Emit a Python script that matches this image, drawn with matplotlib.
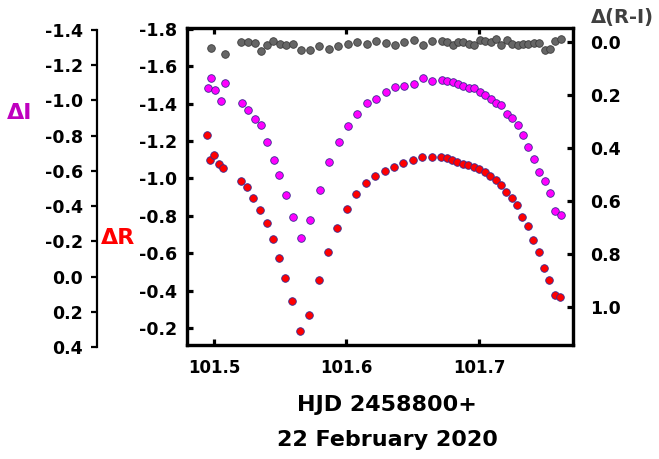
import numpy as np
import matplotlib
matplotlib.use('Agg')
import matplotlib.pyplot as plt

plt.rcParams['font.family'] = 'DejaVu Sans'
plt.rcParams['font.weight'] = 'bold'
plt.rcParams['axes.unicode_minus'] = False

# R band (HJD - 2458800)
t_r = [101.4945, 101.4970, 101.5000, 101.5040, 101.5070, 101.5202, 101.5251, 101.5297,
       101.5347, 101.5398, 101.5448, 101.5491, 101.5538, 101.5589, 101.5647, 101.5719,
       101.5790, 101.5860, 101.5931, 101.6002, 101.6074, 101.6145, 101.6215, 101.6288,
       101.6358, 101.6429, 101.6502, 101.6572, 101.6643, 101.6715, 101.6756, 101.6796,
       101.6836, 101.6877, 101.6919, 101.6960, 101.7002, 101.7043, 101.7083, 101.7126,
       101.7166, 101.7206, 101.7247, 101.7287, 101.7327, 101.7368, 101.7410, 101.7451,
       101.7491, 101.7531, 101.7571, 101.7614]
dR = [-1.231, -1.097, -1.124, -1.078, -1.055, -0.987, -0.955, -0.898,
      -0.832, -0.760, -0.677, -0.577, -0.468, -0.347, -0.183, -0.272,
      -0.458, -0.604, -0.734, -0.839, -0.919, -0.974, -1.012, -1.039,
      -1.062, -1.081, -1.097, -1.113, -1.117, -1.117, -1.110, -1.097,
      -1.089, -1.080, -1.071, -1.060, -1.051, -1.033, -1.012, -0.993,
      -0.966, -0.930, -0.896, -0.857, -0.796, -0.743, -0.673, -0.607,
      -0.520, -0.459, -0.379, -0.365]

# I band
t_i = [101.4955, 101.4975, 101.5005, 101.5051, 101.5081, 101.5209, 101.5259, 101.5307,
       101.5352, 101.5402, 101.5453, 101.5493, 101.5543, 101.5594, 101.5654, 101.5725,
       101.5798, 101.5868, 101.5941, 101.6011, 101.6082, 101.6152, 101.6223, 101.6296,
       101.6366, 101.6436, 101.6507, 101.6577, 101.6648, 101.6721, 101.6761, 101.6802,
       101.6842, 101.6882, 101.6925, 101.6965, 101.7005, 101.7048, 101.7088, 101.7128,
       101.7168, 101.7209, 101.7251, 101.7292, 101.7332, 101.7372, 101.7413, 101.7455,
       101.7496, 101.7536, 101.7576, 101.7617]
dI = [-1.070, -1.126, -1.059, -0.997, -1.097, -0.985, -0.947, -0.894,
      -0.859, -0.762, -0.661, -0.574, -0.462, -0.337, -0.220, -0.322,
      -0.489, -0.648, -0.762, -0.856, -0.921, -0.984, -1.010, -1.048,
      -1.076, -1.084, -1.096, -1.128, -1.112, -1.116, -1.109, -1.105,
      -1.091, -1.082, -1.072, -1.069, -1.046, -1.032, -1.010, -0.984,
      -0.976, -0.921, -0.900, -0.859, -0.802, -0.737, -0.667, -0.595,
      -0.540, -0.474, -0.372, -0.349]

# colour index R-I
t_ri = [101.4975, 101.5081, 101.5202, 101.5257, 101.5307, 101.5352, 101.5402, 101.5448,
        101.5498, 101.5543, 101.5594, 101.5654, 101.5725, 101.5795, 101.5868, 101.5938,
        101.6009, 101.6079, 101.6152, 101.6223, 101.6296, 101.6366, 101.6436, 101.6507,
        101.6577, 101.6645, 101.6721, 101.6761, 101.6802, 101.6842, 101.6882, 101.6925,
        101.6965, 101.7005, 101.7048, 101.7088, 101.7128, 101.7168, 101.7209, 101.7251,
        101.7292, 101.7332, 101.7372, 101.7413, 101.7455, 101.7496, 101.7536, 101.7576,
        101.7617]
dRI = [0.022, 0.044, 0.001, 0.000, 0.005, 0.033, 0.011, -0.003,
       0.009, 0.011, 0.009, 0.029, 0.031, 0.016, 0.028, 0.015,
       0.009, -0.001, 0.006, -0.004, 0.005, 0.011, 0.001, -0.007,
       0.013, -0.004, -0.003, 0.001, 0.011, 0.000, 0.001, 0.008,
       0.011, -0.008, -0.004, -0.001, -0.011, 0.011, -0.006, 0.009,
       0.010, 0.009, 0.008, 0.003, 0.005, 0.030, 0.026, -0.003,
       -0.010]

x_ticks = [101.5, 101.6, 101.7]
r_ticks = [-1.8, -1.6, -1.4, -1.2, -1.0, -0.8, -0.6, -0.4, -0.2]
i_ticks = [-1.4, -1.2, -1.0, -0.8, -0.6, -0.4, -0.2, 0.0, 0.2, 0.4]
ri_ticks = [0.0, 0.2, 0.4, 0.6, 0.8, 1.0]


def fmt(vals):
    return [f'{v:.1f}' if v != 0 else '0.0' for v in vals]


W, H = 659, 459
fig = plt.figure(figsize=(W / 100, H / 100), dpi=100)

xlim = (101.4796, 101.7710)
rect = [187 / W, 1 - 345 / H, 386 / W, 317 / H]
ax = fig.add_axes(rect)
ax.set_xlim(xlim)
ax.set_ylim(-0.109, -1.805)
for s in ax.spines.values():
    s.set_linewidth(2.3)
ax.set_xticks(x_ticks)
ax.set_xticklabels(fmt(x_ticks))
ax.set_yticks(r_ticks)
ax.set_yticklabels(fmt(r_ticks))
ax.tick_params(axis='both', direction='in', length=4, width=2.3, labelsize=12.5)
ax.tick_params(axis='x', top=True, pad=10, labelsize=12)
ax.tick_params(axis='y', pad=7)

# I band axis sits off to the left
axI = fig.add_axes([187 / W, 1 - 347 / H, 386 / W, 317 / H])
axI.patch.set_visible(False)
axI.set_xlim(xlim)
axI.set_ylim(0.4, -1.4)
for k in ['top', 'right', 'bottom']:
    axI.spines[k].set_visible(False)
axI.spines['left'].set_position(('outward', 65))
axI.spines['left'].set_linewidth(1.6)
axI.set_xticks([])
axI.set_yticks(i_ticks)
axI.set_yticklabels(fmt(i_ticks))
axI.tick_params(axis='y', direction='out', length=4, width=1.6, labelsize=12.5, pad=6)

axRI = ax.twinx()
axRI.set_ylim(1.143, -0.053)
axRI.set_yticks(ri_ticks)
axRI.set_yticklabels(fmt(ri_ticks))
axRI.tick_params(axis='y', direction='in', length=4, width=2.3, labelsize=12.5, pad=12)
for s in axRI.spines.values():
    s.set_linewidth(2.3)

mk = dict(s=30, linewidths=0.6, zorder=3)
axRI.scatter(t_ri, dRI, c='#666666', edgecolors='#3c3c3c', **mk)
axI.scatter(t_i, dI, c='#ff00ff', edgecolors='#3a2a90', **mk)
ax.scatter(t_r, dR, c='#ff0000', edgecolors='#3a2a90', **mk)

fig.text(20 / W, 1 - 113 / H, 'ΔI', color='#bf00bf', fontsize=16,
         ha='center', va='center')
fig.text(118 / W, 1 - 238 / H, 'ΔR', color='#ff0000', fontsize=16,
         ha='center', va='center')
fig.text(622 / W, 1 - 18 / H, 'Δ(R-I)', color='#404040', fontsize=14,
         ha='center', va='center')
fig.text(387 / W, 1 - 405 / H, 'HJD 2458800+', fontsize=16, ha='center', va='center')
fig.text(387 / W, 1 - 440 / H, '22 February 2020', fontsize=16, ha='center', va='center')

fig.savefig('out.png', dpi=100)
